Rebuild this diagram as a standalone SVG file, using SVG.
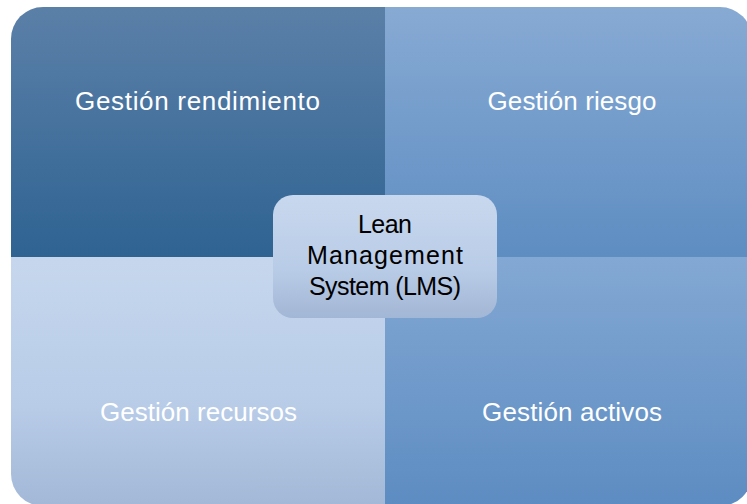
<svg xmlns="http://www.w3.org/2000/svg" width="747" height="504" viewBox="0 0 747 504">
<defs>
<linearGradient id="gTL" x1="0" y1="0" x2="0" y2="1"><stop offset="0" stop-color="#5b80a8"/><stop offset="1" stop-color="#2f6392"/></linearGradient>
<linearGradient id="gTR" x1="0" y1="0" x2="0" y2="1"><stop offset="0" stop-color="#87aad3"/><stop offset="1" stop-color="#5e8dc2"/></linearGradient>
<linearGradient id="gBL" x1="0" y1="0" x2="0" y2="1"><stop offset="0" stop-color="#c6d7ed"/><stop offset="0.6" stop-color="#b8cce8"/><stop offset="1" stop-color="#a2b8d6"/></linearGradient>
<linearGradient id="gBR" x1="0" y1="0" x2="0" y2="1"><stop offset="0" stop-color="#83a8d3"/><stop offset="1" stop-color="#5d8cc2"/></linearGradient>
<linearGradient id="gC" x1="0" y1="0" x2="0" y2="1"><stop offset="0" stop-color="#c8d8ee"/><stop offset="0.6" stop-color="#b9cce7"/><stop offset="1" stop-color="#a2b6d5"/></linearGradient>
<clipPath id="outer"><rect x="11" y="7" width="741" height="499" rx="32" ry="32"/></clipPath>
</defs>
<style>
.q{font-family:"Liberation Sans",Arial,sans-serif;font-size:26px;fill:#ffffff;text-anchor:middle}
.c{font-family:"Liberation Sans",Arial,sans-serif;font-size:25px;fill:#000000;text-anchor:middle}
</style>
<rect width="747" height="504" fill="#ffffff"/>
<g clip-path="url(#outer)">
<g id="q-rendimiento">
<rect x="11" y="7" width="374" height="250" fill="url(#gTL)"/>
<text class="q" x="197.5" y="110" textLength="245">Gestión rendimiento</text>
</g>
<g id="q-riesgo">
<rect x="385" y="7" width="367" height="250" fill="url(#gTR)"/>
<text class="q" x="572" y="110" textLength="169">Gestión riesgo</text>
</g>
<g id="q-recursos">
<rect x="11" y="257" width="374" height="249" fill="url(#gBL)"/>
<text class="q" x="198.5" y="421" textLength="197">Gestión recursos</text>
</g>
<g id="q-activos">
<rect x="385" y="257" width="367" height="249" fill="url(#gBR)"/>
<text class="q" x="572" y="421" textLength="180">Gestión activos</text>
</g>
</g>
<g id="connectors"></g>
<g id="center">
<rect x="273" y="195" width="224" height="123" rx="20" ry="20" fill="url(#gC)"/>
<text class="c" x="385" y="233" textLength="54">Lean</text>
<text class="c" x="385" y="264" textLength="156">Management</text>
<text class="c" x="385" y="295" textLength="152">System (LMS)</text>
</g>
</svg>
